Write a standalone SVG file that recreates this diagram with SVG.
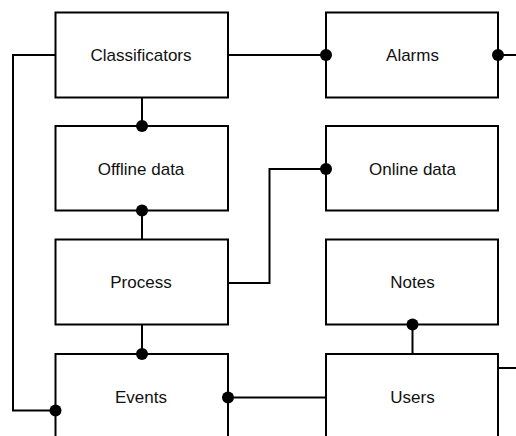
<svg xmlns="http://www.w3.org/2000/svg" width="516" height="436" viewBox="0 0 516 436">
<defs>
<style>
.box{fill:#fff;stroke:#000;stroke-width:2}
.lbl{font-family:"Liberation Sans",Arial,sans-serif;font-size:17px;fill:#111;text-anchor:middle}
.con{fill:none;stroke:#000;stroke-width:2}
.dot{fill:#000}
</style>
</defs>
<rect width="516" height="436" fill="#fff"/>
<g id="connectors">
<path class="con" d="M55.5,55 H13 V410.5 H55.5"/>
<path class="con" d="M228,55 H326"/>
<path class="con" d="M498,55 H516"/>
<path class="con" d="M142,97.5 V126"/>
<path class="con" d="M142,210.5 V239.5"/>
<path class="con" d="M228,283 H269.5 V169 H326"/>
<path class="con" d="M142,324.5 V354"/>
<path class="con" d="M228,397.5 H326"/>
<path class="con" d="M412.5,324.5 V354"/>
<path class="con" d="M498,368 H516"/>
</g>
<g id="classificators"><rect class="box" x="55.5" y="12.5" width="172.5" height="85"/><text class="lbl" x="141" y="61">Classificators</text></g>
<g id="alarms"><rect class="box" x="326" y="12.5" width="172" height="85"/><text class="lbl" x="412.5" y="61">Alarms</text></g>
<g id="offline-data"><rect class="box" x="55.5" y="126" width="172.5" height="84.5"/><text class="lbl" x="141" y="174.5">Offline data</text></g>
<g id="online-data"><rect class="box" x="326" y="126" width="172" height="84.5"/><text class="lbl" x="412.5" y="174.5">Online data</text></g>
<g id="process"><rect class="box" x="55.5" y="239.5" width="172.5" height="85"/><text class="lbl" x="141" y="288">Process</text></g>
<g id="notes"><rect class="box" x="326" y="239.5" width="172" height="85"/><text class="lbl" x="412.5" y="288">Notes</text></g>
<g id="events"><rect class="box" x="55.5" y="354" width="172.5" height="100"/><text class="lbl" x="141" y="403">Events</text></g>
<g id="users"><rect class="box" x="326" y="354" width="172" height="100"/><text class="lbl" x="412.5" y="403">Users</text></g>
<g id="ends">
<circle class="dot" cx="55.5" cy="410.5" r="6"/>
<circle class="dot" cx="326" cy="55" r="6"/>
<circle class="dot" cx="498" cy="55" r="6"/>
<circle class="dot" cx="142" cy="126" r="6"/>
<circle class="dot" cx="142" cy="210.5" r="6"/>
<circle class="dot" cx="326" cy="169" r="6"/>
<circle class="dot" cx="142" cy="354" r="6"/>
<circle class="dot" cx="228" cy="397.5" r="6"/>
<circle class="dot" cx="412.5" cy="324.5" r="6"/>
</g>
</svg>
